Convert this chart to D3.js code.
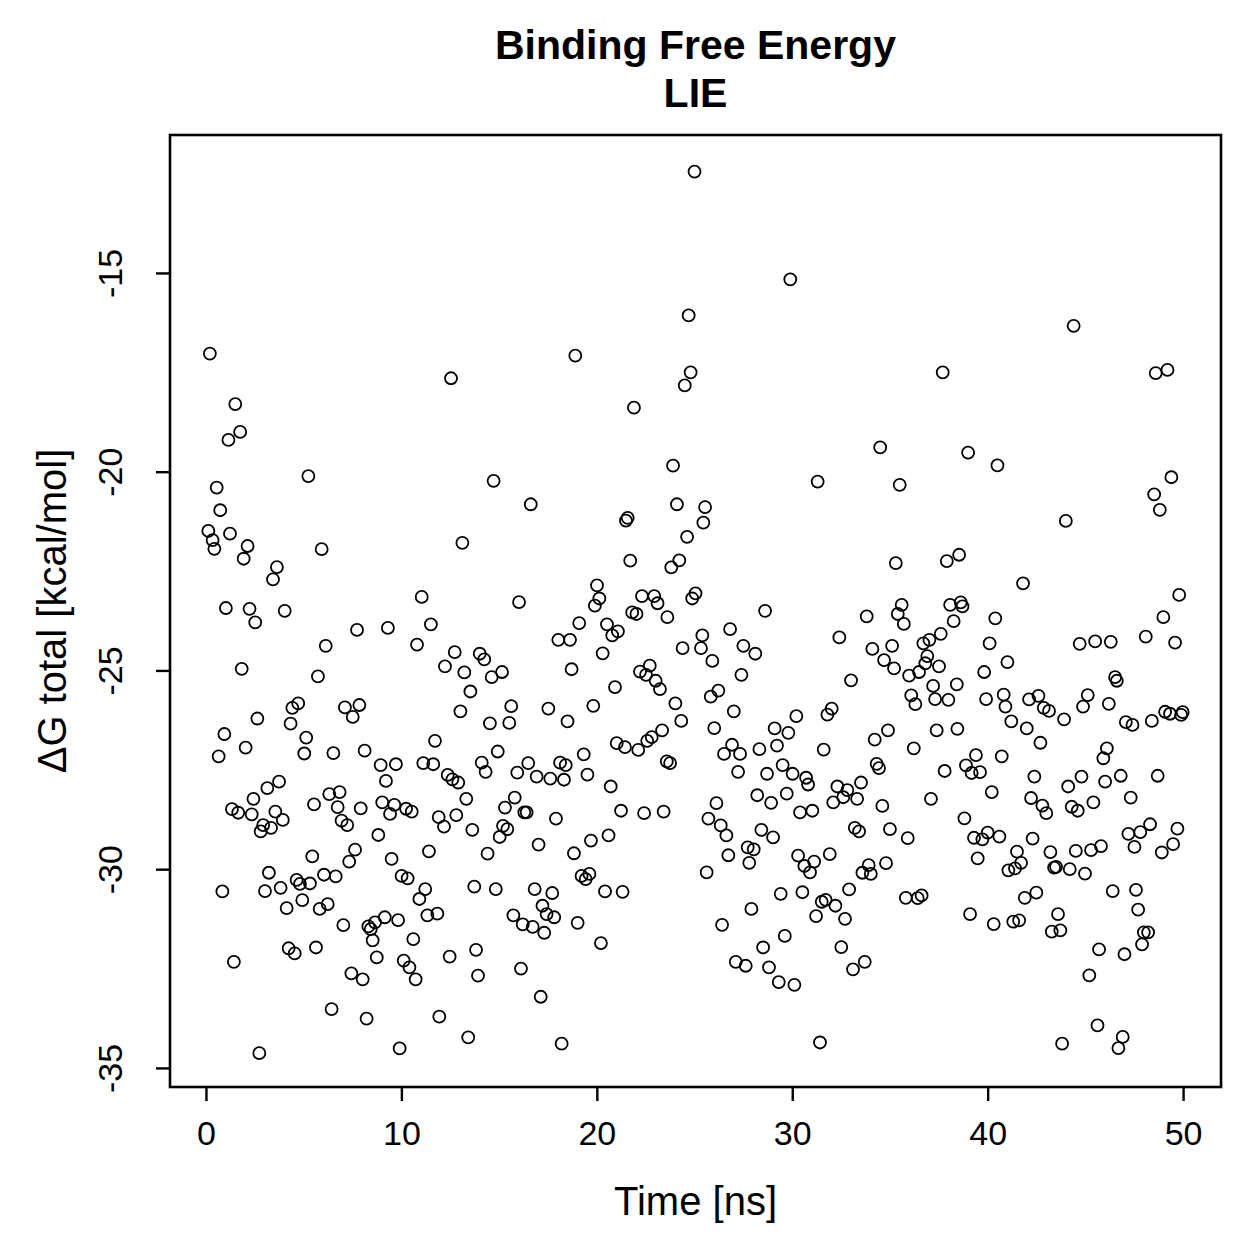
<!DOCTYPE html>
<html>
<head>
<meta charset="utf-8">
<script src="https://cdn.jsdelivr.net/npm/d3@7"></script>
<style>
  html, body { margin: 0; padding: 0; background: #fff; }
  svg text { font-family: "Liberation Sans", Arial, Helvetica, sans-serif; fill: #000; }
</style>
</head>
<body>
<svg id="chart" width="1259" height="1259"></svg>
<script>
// chart text
const titleLines = ["Binding Free Energy", "LIE"]
const xLabel = "Time [ns]"
const yLabel = "\u0394G total [kcal/mol]"
const xTicks = [0, 10, 20, 30, 40, 50]
const yTicks = [-35, -30, -25, -20, -15]

// [time (ns), dG total (kcal/mol)]
const samples = [
  [0.2,-17.03],[1.5,-18.3],[1.75,-19.0],[1.15,-19.2],
  [25.0,-12.45],[24.7,-16.07],[18.9,-17.08],[12.54,-17.65],[24.8,-17.5],[24.5,-17.83],[21.9,-18.39],
  [29.9,-15.16],[37.7,-17.5],[34.5,-19.39],
  [44.4,-16.33],[48.6,-17.52],[49.2,-17.44],[39.0,-19.52],[40.5,-19.84],
  [5.24,-20.11],[0.55,-20.40],[0.73,-20.97],[0.12,-21.49],[1.23,-21.56],[0.34,-21.72],[0.43,-21.94],[2.13,-21.87],[5.92,-21.95],[1.93,-22.19],
  [3.63,-22.40],[3.43,-22.71],[11.04,-23.15],[1.02,-23.43],[2.23,-23.45],[4.03,-23.50],[2.52,-23.79],[11.51,-23.84],[7.73,-23.98],[9.31,-23.93],
  [10.80,-24.35],[6.13,-24.38],[1.83,-24.96],[5.73,-25.15],[4.72,-25.83],[4.42,-25.94],[7.11,-25.93],[7.85,-25.87],[7.51,-26.17],[2.63,-26.21],
  [4.33,-26.34],[0.94,-26.60],[5.13,-26.69],[11.72,-26.77],[2.03,-26.94],[0.65,-27.16],[5.03,-27.09],[6.52,-27.08],[8.12,-27.02],[8.94,-27.38],
  [9.72,-27.36],[11.12,-27.33],[11.63,-27.36],
  [23.9,-19.85],[14.72,-20.23],[16.62,-20.82],[24.1,-20.82],[25.54,-20.89],[25.45,-21.28],[21.58,-21.16],[21.49,-21.23],[13.12,-21.79],[24.62,-21.64],
  [21.71,-22.24],[24.22,-22.23],[23.81,-22.41],[20.01,-22.86],[16.02,-23.28],[20.13,-23.19],[19.90,-23.37],[22.31,-23.13],[22.94,-23.13],[23.11,-23.31],
  [25.05,-23.06],[24.88,-23.19],[21.81,-23.54],[22.03,-23.58],[23.61,-23.66],[19.10,-23.81],[20.52,-23.84],[21.08,-24.02],[20.79,-24.12],[18.03,-24.23],
  [18.63,-24.23],[20.30,-24.57],[25.40,-24.12],[24.39,-24.44],[25.33,-24.44],[12.73,-24.54],[14.01,-24.58],[14.24,-24.72],[12.23,-24.90],[13.22,-25.05],
  [14.62,-25.17],[15.15,-25.04],[18.71,-24.97],[22.71,-24.88],[22.21,-25.03],[22.52,-25.11],[23.01,-25.26],[23.23,-25.47],[20.93,-25.42],[13.53,-25.53],
  [15.62,-25.90],[17.52,-25.96],[19.82,-25.89],[24.02,-25.83],[13.02,-26.03],[14.53,-26.33],[15.52,-26.32],[18.50,-26.28],[24.32,-26.27],[23.34,-26.51],
  [22.81,-26.68],[22.58,-26.77],[21.02,-26.83],[21.44,-26.93],[22.12,-27.00],[14.93,-27.04],[19.33,-27.11],
  [14.11,-27.32],[14.31,-27.55],[16.49,-27.33],[18.12,-27.32],[18.41,-27.38],[23.58,-27.29],[23.75,-27.33],[12.37,-27.63],[12.61,-27.74],[12.91,-27.82],
  [15.93,-27.57],[16.92,-27.67],[17.62,-27.72],[18.32,-27.75],[19.52,-27.62],[20.71,-27.92],[13.32,-28.23],[15.80,-28.20],[15.30,-28.45],[16.29,-28.57],
  [16.41,-28.57],[21.24,-28.53],[22.42,-28.59],[23.42,-28.55],[12.81,-28.64],[11.91,-28.69],[12.18,-28.93],[17.91,-28.73],[13.63,-29.01],[15.20,-28.91],
  [15.42,-28.99],[15.03,-29.19],[20.60,-29.15],[19.70,-29.28],[17.02,-29.38],[18.83,-29.60],[14.41,-29.61],[19.22,-30.17],[19.62,-30.12],[19.43,-30.25],
  [13.73,-30.44],[14.83,-30.50],[16.82,-30.50],[17.72,-30.60],[20.42,-30.56],[21.32,-30.57],[17.22,-30.92],[17.43,-31.13],[17.82,-31.21],[15.73,-31.16],
  [16.21,-31.39],[16.72,-31.45],[17.31,-31.60],[19.02,-31.35],[20.21,-31.86],[13.82,-32.03],[12.47,-32.20],[16.12,-32.50],[13.92,-32.68],[17.13,-33.21],
  [13.42,-34.23],[18.20,-34.39],[25.62,-30.08],
  [3.74,-27.80],[3.14,-27.96],[2.43,-28.23],[1.33,-28.49],[1.65,-28.58],[2.34,-28.62],[3.55,-28.55],[3.93,-28.76],[2.93,-28.89],[3.33,-28.96],
  [2.80,-29.05],[9.21,-27.78],[6.31,-28.11],[6.84,-28.06],[5.53,-28.37],[6.74,-28.44],[7.92,-28.47],[6.94,-28.78],[7.23,-28.89],[9.02,-28.32],
  [9.64,-28.38],[9.42,-28.61],[10.24,-28.48],[10.53,-28.55],[8.82,-29.14],[7.63,-29.51],[7.33,-29.81],[5.44,-29.68],[9.50,-29.74],[11.41,-29.55],
  [3.22,-30.09],[0.84,-30.56],[3.02,-30.55],[3.82,-30.47],[4.64,-30.27],[4.81,-30.37],[5.32,-30.36],[6.04,-30.14],[6.64,-30.18],[4.13,-30.98],
  [4.93,-30.78],[5.82,-31.00],[6.23,-30.88],[10.01,-30.17],[10.32,-30.23],[11.22,-30.50],[10.92,-30.75],[11.33,-31.16],[11.84,-31.12],[7.03,-31.41],
  [8.31,-31.44],[8.43,-31.51],[8.65,-31.34],[9.15,-31.21],[9.83,-31.28],[8.53,-31.79],[10.61,-31.76],[4.23,-31.99],[4.54,-32.12],[5.63,-31.97],
  [8.74,-32.22],[10.12,-32.30],[10.41,-32.47],[10.73,-32.77],[1.43,-32.33],[7.44,-32.62],[8.02,-32.77],[6.43,-33.52],[8.22,-33.76],[11.94,-33.71],
  [2.73,-34.63],[9.91,-34.51],
  [31.30,-20.25],[35.50,-20.33],[35.30,-22.30],[37.91,-22.25],[38.54,-22.09],[28.61,-23.50],[33.81,-23.64],[35.60,-23.35],[35.40,-23.58],[35.71,-23.83],
  [38.08,-23.35],[26.82,-23.96],[32.41,-24.17],[27.50,-24.38],[28.11,-24.58],[25.91,-24.76],[27.40,-25.11],[34.10,-24.46],[35.11,-24.38],[34.70,-24.74],
  [35.21,-24.95],[33.01,-25.25],[37.60,-24.08],[37.02,-24.23],[36.71,-24.32],[36.91,-24.64],[36.81,-24.82],[37.51,-24.90],[36.49,-25.04],[35.98,-25.13],
  [37.21,-25.39],[38.42,-25.35],[36.09,-25.63],[36.30,-25.85],[37.31,-25.72],[37.99,-25.74],[26.22,-25.51],[25.83,-25.66],[27.01,-26.03],[26.01,-26.45],
  [30.21,-26.15],[29.10,-26.46],[29.80,-26.57],[32.02,-25.96],[31.80,-26.11],[34.90,-26.51],[34.22,-26.74],[37.39,-26.51],[38.45,-26.47],[36.22,-26.96],
  [26.92,-26.87],[26.51,-27.10],[27.33,-27.10],[28.32,-26.98],[29.22,-26.89],[31.61,-26.99],[29.51,-27.38],[34.32,-27.35],[34.44,-27.46],
  [37.80,-27.53],[27.23,-27.55],[28.71,-27.60],[30.02,-27.60],[30.71,-27.70],[30.81,-27.87],[32.31,-27.92],[32.82,-28.01],[32.61,-28.19],[33.52,-27.82],
  [33.32,-28.23],[32.10,-28.32],[37.10,-28.23],[34.61,-28.41],[28.21,-28.14],[29.72,-28.10],[28.92,-28.33],[26.12,-28.34],[30.40,-28.57],[31.03,-28.53],
  [25.71,-28.73],[26.34,-28.90],[26.63,-29.15],[28.42,-29.01],[29.02,-29.20],[33.20,-28.96],[33.42,-29.05],[35.00,-28.99],[35.91,-29.22],[27.72,-29.45],
  [28.03,-29.50],[26.73,-29.65],[27.80,-29.84],[30.30,-29.66],[31.12,-29.81],[30.62,-29.92],[30.91,-30.08],[31.92,-29.62],[34.80,-29.85],[33.91,-29.90],
  [33.59,-30.09],[34.02,-30.12],[29.41,-30.62],[30.52,-30.58],[32.91,-30.51],[31.51,-30.82],[31.71,-30.77],[32.21,-30.92],[31.22,-31.18],[32.70,-31.25],
  [35.81,-30.72],[36.42,-30.73],[36.62,-30.66],[27.91,-31.00],[26.41,-31.40],[29.62,-31.68],[28.51,-31.97],[32.51,-31.96],[27.11,-32.33],[27.62,-32.43],
  [28.81,-32.47],[29.31,-32.84],[30.11,-32.91],[33.11,-32.52],[33.71,-32.33],[31.42,-34.36],
  [49.40,-20.14],[48.52,-20.57],[48.81,-20.96],[44.00,-21.24],[41.81,-22.81],[38.62,-23.29],[38.71,-23.39],[38.26,-23.76],[49.80,-23.10],[48.99,-23.66],
  [40.39,-23.69],[40.10,-24.32],[48.09,-24.15],[49.59,-24.30],[44.71,-24.33],[45.50,-24.27],[46.30,-24.28],[41.01,-24.79],[39.82,-25.04],[46.52,-25.17],
  [46.61,-25.26],[39.92,-25.72],[40.82,-25.61],[40.91,-25.91],[42.12,-25.73],[42.60,-25.64],[42.87,-25.94],[43.14,-26.02],[45.12,-25.62],[44.88,-25.91],
  [46.20,-25.84],[43.91,-26.23],[41.21,-26.28],[42.00,-26.46],[42.70,-26.82],[47.07,-26.30],[47.41,-26.37],[48.40,-26.27],[49.08,-26.04],[49.33,-26.09],
  [49.98,-26.05],[49.90,-26.12],[46.10,-26.96],
  [38.89,-27.39],[39.18,-27.58],[39.61,-27.56],[39.40,-27.13],[40.72,-27.16],[45.92,-27.21],[42.39,-27.67],[44.80,-27.67],[44.12,-27.92],[46.01,-27.80],
  [46.81,-27.65],[48.70,-27.65],[40.21,-28.06],[42.22,-28.21],[42.80,-28.40],[43.00,-28.59],[44.30,-28.43],[44.61,-28.53],[45.41,-28.32],[47.32,-28.20],
  [38.81,-28.72],[39.30,-29.21],[39.73,-29.25],[40.00,-29.08],[40.60,-29.18],[42.30,-29.23],[39.49,-29.73],[41.50,-29.56],[41.71,-29.84],[41.40,-29.98],
  [41.06,-30.03],[43.21,-29.57],[44.51,-29.54],[45.29,-29.52],[45.80,-29.42],[43.40,-29.96],[43.50,-29.94],[44.20,-30.00],[44.98,-30.11],[47.20,-29.11],
  [47.81,-29.07],[48.31,-28.87],[47.51,-29.44],[49.71,-28.98],[49.49,-29.37],[48.91,-29.58],[46.40,-30.55],[47.59,-30.52],[47.70,-31.02],[42.49,-30.59],
  [41.90,-30.72],[39.10,-31.13],[40.31,-31.38],[41.31,-31.32],[41.61,-31.29],[43.60,-31.13],[43.28,-31.57],[43.72,-31.54],[47.99,-31.59],[48.21,-31.59],
  [47.90,-31.89],[45.70,-32.02],[47.00,-32.14],[45.20,-32.67],[45.62,-33.93],[46.91,-34.22],[46.69,-34.50],[43.81,-34.39]
]

const svg = d3.select("#chart")
const plot = { left: 170, top: 135, right: 1221, bottom: 1087 }

const x = d3.scaleLinear().domain([-1.84, 51.94]).range([plot.left, plot.right])
const y = d3.scaleLinear().domain([-35.48, -11.53]).range([plot.bottom, plot.top])

// points
svg.append("g")
	.selectAll("circle")
	.data(samples)
	.join("circle")
	.attr("cx", d => x(d[0]))
	.attr("cy", d => y(d[1]))
	.attr("r", 6)
	.attr("fill", "none")
	.attr("stroke", "#000")
	.attr("stroke-width", 1.8)

// axes (plain hyphen for negatives, like R)
const plainNum = d => String(d)
const xAxis = svg.append("g")
	.attr("transform", `translate(0,${plot.bottom})`)
	.call(d3.axisBottom(x).tickValues(xTicks).tickSize(14).tickPadding(16).tickFormat(plainNum))
const yAxis = svg.append("g")
	.attr("transform", `translate(${plot.left},0)`)
	.call(d3.axisLeft(y).tickValues(yTicks).tickSize(14).tickPadding(0).tickFormat(plainNum))

for (const ax of [xAxis, yAxis]) {
	ax.select(".domain").remove()
	ax.selectAll(".tick line").attr("stroke", "#000").attr("stroke-width", 2.4)
	ax.selectAll(".tick text").attr("font-size", 34).attr("fill", "#000")
		.attr("font-family", "'Liberation Sans', Arial, sans-serif")
}
xAxis.selectAll(".tick text").attr("dy", null).attr("y", 58)
yAxis.selectAll(".tick text")
	.attr("x", null).attr("dy", null)
	.attr("text-anchor", "middle")
	.attr("transform", "translate(-48,0) rotate(-90)")

// box
svg.append("rect")
	.attr("x", plot.left).attr("y", plot.top)
	.attr("width", plot.right - plot.left).attr("height", plot.bottom - plot.top)
	.attr("fill", "none").attr("stroke", "#000").attr("stroke-width", 2.6)

// titles
const cx = (plot.left + plot.right) / 2
svg.append("text").attr("x", cx).attr("y", 59).attr("text-anchor", "middle")
	.attr("font-size", 41).attr("font-weight", "bold").text(titleLines[0])
svg.append("text").attr("x", cx).attr("y", 107).attr("text-anchor", "middle")
	.attr("font-size", 41).attr("font-weight", "bold").text(titleLines[1])

svg.append("text").attr("x", cx).attr("y", 1215).attr("text-anchor", "middle")
	.attr("font-size", 40).text(xLabel)
svg.append("text")
	.attr("transform", `translate(66,${(plot.top + plot.bottom) / 2}) rotate(-90)`)
	.attr("text-anchor", "middle")
	.attr("font-size", 40).text(yLabel)
</script>
</body>
</html>
